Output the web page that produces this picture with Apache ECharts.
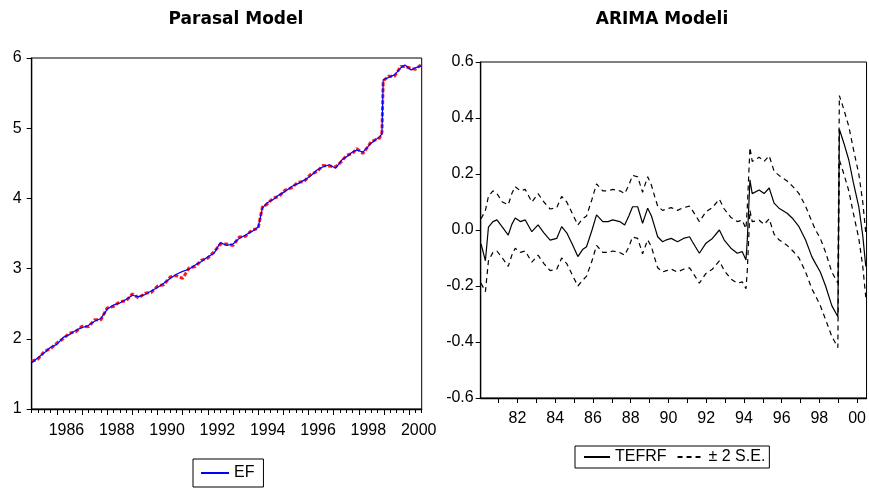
<!DOCTYPE html>
<html>
<head>
<meta charset="utf-8">
<script src="https://cdn.jsdelivr.net/npm/echarts@6/dist/echarts.min.js"></script>
<style>
  html, body { margin: 0; padding: 0; background: #fff; }
  #chart { width: 869px; height: 495px; }
</style>
</head>
<body>
<div id="chart"></div>
<script>
var myChart = echarts.init(document.getElementById('chart'));
var axisFont = '"Liberation Sans", Arial, sans-serif';

// Parasal Model (left)
var leftYears = [1985.0, 1985.25, 1985.5, 1985.75, 1986.0, 1986.25, 1986.5, 1986.75, 1987.0, 1987.25,
  1987.5, 1987.75, 1988.0, 1988.25, 1988.5, 1988.75, 1989.0, 1989.25, 1989.5, 1989.75,
  1990.0, 1990.25, 1990.5, 1990.75, 1991.0, 1991.25, 1991.5, 1991.75, 1992.0, 1992.25,
  1992.5, 1992.75, 1993.0, 1993.25, 1993.5, 1993.75, 1994.0, 1994.17, 1994.33, 1994.58,
  1994.83, 1995.08, 1995.33, 1995.58, 1995.83, 1996.08, 1996.33, 1996.58, 1996.83, 1997.08,
  1997.33, 1997.5, 1997.75, 1997.92, 1998.17, 1998.5, 1998.83, 1998.92, 1998.97, 1999.17,
  1999.42, 1999.67, 1999.83, 2000.08, 2000.25, 2000.5];
var efValues = [1.66, 1.73, 1.80, 1.88, 1.92, 2.02, 2.06, 2.12, 2.16, 2.19,
  2.25, 2.29, 2.42, 2.48, 2.51, 2.56, 2.62, 2.60, 2.63, 2.68,
  2.73, 2.79, 2.86, 2.92, 2.96, 2.99, 3.05, 3.10, 3.17, 3.22,
  3.37, 3.33, 3.35, 3.43, 3.48, 3.53, 3.59, 3.86, 3.93, 3.98,
  4.05, 4.10, 4.17, 4.21, 4.26, 4.32, 4.40, 4.45, 4.48, 4.43,
  4.55, 4.59, 4.66, 4.69, 4.66, 4.79, 4.88, 4.92, 5.69, 5.72,
  5.76, 5.86, 5.90, 5.83, 5.86, 5.89];
var fitValues = [1.68, 1.71, 1.82, 1.86, 1.94, 2.00, 2.08, 2.10, 2.18, 2.17,
  2.27, 2.27, 2.44, 2.46, 2.53, 2.54, 2.64, 2.58, 2.65, 2.66,
  2.75, 2.77, 2.88, 2.90, 2.86, 3.01, 3.03, 3.12, 3.15, 3.24,
  3.35, 3.35, 3.33, 3.45, 3.46, 3.55, 3.57, 3.88, 3.91, 4.00,
  4.03, 4.12, 4.15, 4.23, 4.24, 4.34, 4.38, 4.47, 4.46, 4.45,
  4.53, 4.61, 4.64, 4.71, 4.64, 4.81, 4.86, 4.94, 5.67, 5.74,
  5.74, 5.88, 5.88, 5.85, 5.84, 5.91];
var leftLabelYears = [1986, 1988, 1990, 1992, 1994, 1996, 1998, 2000];

// ARIMA Modeli (right)
var rightYears = [1980.07, 1980.3, 1980.46, 1980.7, 1980.91, 1981.2, 1981.51, 1981.7, 1981.88, 1982.15,
  1982.41, 1982.76, 1983.09, 1983.4, 1983.73, 1984.08, 1984.34, 1984.61, 1984.9, 1985.2,
  1985.45, 1985.66, 1985.95, 1986.19, 1986.52, 1986.8, 1987.05, 1987.42, 1987.68, 1987.9,
  1988.1, 1988.37, 1988.63, 1988.9, 1989.1, 1989.27, 1989.43, 1989.69, 1989.9, 1990.15,
  1990.48, 1990.8, 1991.12, 1991.27, 1991.64, 1991.99, 1992.33, 1992.7, 1992.96, 1993.31,
  1993.65, 1993.91, 1994.11, 1994.18, 1994.32, 1994.44, 1994.81, 1995.07, 1995.34, 1995.6,
  1995.86, 1996.29, 1996.6, 1996.92, 1997.27, 1997.6, 1997.8, 1998.05, 1998.33, 1998.66,
  1998.98, 1999.03, 1999.06, 1999.3, 1999.56, 1999.8, 2000.09, 2000.3, 2000.46];
var tefrf = [-0.05, -0.11, 0.01, 0.03, 0.036, 0.01, -0.018, 0.02, 0.043, 0.03,
  0.036, -0.006, 0.018, -0.01, -0.036, -0.03, 0.012, -0.01, -0.05, -0.095,
  -0.07, -0.06, 0.0, 0.054, 0.03, 0.03, 0.036, 0.03, 0.018, 0.05,
  0.083, 0.083, 0.024, 0.078, 0.05, 0.012, -0.024, -0.042, -0.035, -0.03,
  -0.042, -0.03, -0.024, -0.042, -0.083, -0.047, -0.03, 0.0, -0.036, -0.065,
  -0.083, -0.077, -0.107, -0.036, 0.179, 0.13, 0.143, 0.13, 0.15, 0.096,
  0.078, 0.06, 0.04, 0.012, -0.036, -0.095, -0.12, -0.15, -0.2, -0.27,
  -0.31, -0.31, 0.36, 0.31, 0.25, 0.17, 0.083, -0.02, -0.13];
var upperSE = [0.04, 0.07, 0.12, 0.14, 0.13, 0.10, 0.09, 0.13, 0.155, 0.14,
  0.145, 0.10, 0.13, 0.10, 0.075, 0.08, 0.12, 0.10, 0.06, 0.018,
  0.04, 0.05, 0.11, 0.165, 0.14, 0.14, 0.145, 0.14, 0.13, 0.16,
  0.195, 0.19, 0.135, 0.19, 0.16, 0.12, 0.085, 0.07, 0.075, 0.08,
  0.07, 0.08, 0.085, 0.07, 0.03, 0.065, 0.08, 0.11, 0.075, 0.045,
  0.03, 0.035, 0.005, 0.08, 0.295, 0.245, 0.26, 0.245, 0.265, 0.21,
  0.195, 0.175, 0.155, 0.13, 0.085, 0.03, 0.0, -0.03, -0.08, -0.15,
  -0.19, -0.19, 0.48, 0.43, 0.37, 0.29, 0.20, 0.10, -0.01];
var lowerSE = [-0.19, -0.22, -0.11, -0.08, -0.075, -0.10, -0.13, -0.09, -0.065, -0.08,
  -0.075, -0.115, -0.09, -0.12, -0.145, -0.14, -0.10, -0.12, -0.16, -0.2,
  -0.18, -0.165, -0.11, -0.055, -0.08, -0.08, -0.075, -0.08, -0.09, -0.06,
  -0.025, -0.03, -0.085, -0.035, -0.06, -0.10, -0.135, -0.15, -0.145, -0.14,
  -0.15, -0.14, -0.135, -0.15, -0.19, -0.155, -0.14, -0.11, -0.145, -0.175,
  -0.19, -0.185, -0.21, -0.145, 0.07, 0.03, 0.035, 0.02, 0.04, -0.015,
  -0.035, -0.055, -0.075, -0.10, -0.15, -0.21, -0.235, -0.27, -0.32, -0.38,
  -0.42, -0.42, 0.25, 0.20, 0.14, 0.06, -0.03, -0.13, -0.24];
var rightLabelYears = [1982, 1984, 1986, 1988, 1990, 1992, 1994, 1996, 1998, 2000];

function pairs(xs, ys) {
  return xs.map(function(x, i) { return [x, ys[i]]; });
}

// tick positions
var quarterTicks = [];
for (var q = 1985; q <= 2000.5; q += 0.25) quarterTicks.push(q);
var yearTicksLeft = [];
for (var y = 1986; y <= 2000; y++) yearTicksLeft.push(y);
var yearTicksRight = [];
for (var r = 1981; r <= 2000; r++) yearTicksRight.push(r);

var black = '#000';
var legendIconStyle = { color: 'transparent', borderWidth: 0 };
var option = {
  backgroundColor: '#fff',
  animation: false,
  title: [{
    text: 'Parasal Model', left: 231, top: 6, textAlign: 'center',
    textStyle: { fontFamily: '"DejaVu Sans"', fontWeight: 'bold', fontSize: 17, color: black }
  }, {
    text: 'ARIMA Modeli', left: 657, top: 6, textAlign: 'center',
    textStyle: { fontFamily: '"DejaVu Sans"', fontWeight: 'bold', fontSize: 17, color: black }
  }],
  legend: [{
    data: ['EF'],
    left: 193, top: 459,
    padding: [6, 9, 6, 7],
    borderColor: black, borderWidth: 1,
    itemWidth: 28, itemHeight: 14, itemGap: 10,
    itemStyle: legendIconStyle,
    textStyle: { fontFamily: axisFont, fontSize: 16, color: black }
  }, {
    data: ['TEFRF', '\u00b1 2 S.E.'],
    left: 575, top: 446,
    padding: [3, 4, 3, 8],
    borderColor: black, borderWidth: 1,
    itemWidth: 26, itemHeight: 14, itemGap: 10,
    itemStyle: legendIconStyle,
    textStyle: { fontFamily: axisFont, fontSize: 16, color: black }
  }],
  grid: [
    { left: 31.7, top: 58, right: 447.3, bottom: 86, show: true, borderColor: black, borderWidth: 1 },
    { left: 480.7, top: 62, right: 1, bottom: 97, show: true, borderColor: black, borderWidth: 1 }
  ],
  xAxis: [{
    type: 'value', gridIndex: 0, min: 1985, max: 2000.5,
    axisLine: { onZero: false, lineStyle: { color: black, width: 1.3 } },
    axisTick: { customValues: quarterTicks, length: 4, lineStyle: { color: black } },
    axisLabel: {
      customValues: leftLabelYears.map(function(v) { return v + 0.38; }),
      formatter: function(v) { return String(Math.floor(v)); },
      fontFamily: axisFont, fontSize: 16, color: black, margin: 14
    },
    splitLine: { show: false }
  }, {
    type: 'value', gridIndex: 0, min: 1985, max: 2000.5, position: 'bottom',
    axisLine: { show: false, onZero: false },
    axisTick: { customValues: yearTicksLeft, length: 6, lineStyle: { color: black } },
    axisLabel: { show: false },
    splitLine: { show: false }
  }, {
    type: 'value', gridIndex: 1, min: 1980.05, max: 2000.5,
    axisLine: { onZero: false, lineStyle: { color: black, width: 1.3 } },
    axisTick: { customValues: yearTicksRight, length: 5, lineStyle: { color: black } },
    axisLabel: {
      customValues: rightLabelYears,
      formatter: function(v) { var s = String(Math.round(v) % 100); return s.length < 2 ? '0' + s : s; },
      fontFamily: axisFont, fontSize: 16, color: black, margin: 13
    },
    splitLine: { show: false }
  }],
  yAxis: [{
    type: 'value', gridIndex: 0, min: 1, max: 6, interval: 1,
    axisLine: { show: true, onZero: false, lineStyle: { color: black, width: 1.3 } },
    axisTick: { show: true, length: 5, lineStyle: { color: black } },
    axisLabel: { fontFamily: axisFont, fontSize: 16, color: black, margin: 10 },
    splitLine: { show: false }
  }, {
    type: 'value', gridIndex: 1, min: -0.6, max: 0.6, interval: 0.2,
    axisLine: { show: true, onZero: false, lineStyle: { color: black, width: 1.3 } },
    axisTick: { show: true, length: 5, lineStyle: { color: black } },
    axisLabel: {
      fontFamily: axisFont, fontSize: 16, color: black, margin: 7,
      formatter: function(v) { return v.toFixed(1); }
    },
    splitLine: { show: false }
  }],
  series: [{
    name: 'EF fit', type: 'line', xAxisIndex: 0, yAxisIndex: 0,
    data: pairs(leftYears, fitValues), symbol: 'none',
    lineStyle: { color: '#ff1a1a', width: 3, type: [4, 2] }, z: 2
  }, {
    name: 'EF', type: 'line', xAxisIndex: 0, yAxisIndex: 0,
    data: pairs(leftYears, efValues), symbol: 'none',
    itemStyle: { color: '#0000ff' },
    lineStyle: { color: '#0000ff', width: 1.2 }, z: 3
  }, {
    name: 'TEFRF', type: 'line', xAxisIndex: 2, yAxisIndex: 1,
    data: pairs(rightYears, tefrf), symbol: 'none',
    itemStyle: { color: black },
    lineStyle: { color: black, width: 1.2 }
  }, {
    name: '\u00b1 2 S.E.', type: 'line', xAxisIndex: 2, yAxisIndex: 1,
    data: pairs(rightYears, upperSE), symbol: 'none',
    itemStyle: { color: black },
    lineStyle: { color: black, width: 1.2, type: [5, 4] }
  }, {
    name: '\u00b1 2 S.E.', type: 'line', xAxisIndex: 2, yAxisIndex: 1,
    data: pairs(rightYears, lowerSE), symbol: 'none',
    itemStyle: { color: black },
    lineStyle: { color: black, width: 1.2, type: [5, 4] }
  }]
};
myChart.setOption(option);
</script>
</body>
</html>
